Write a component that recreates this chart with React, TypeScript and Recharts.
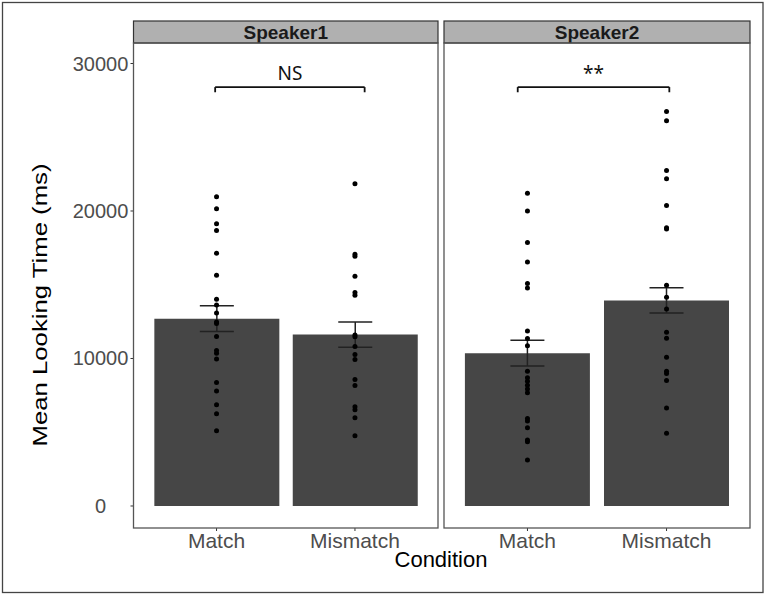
import React from "react";
import { ComposedChart, Bar, Scatter, XAxis, YAxis, ErrorBar, ReferenceLine } from "recharts";

const conditions = ["Match", "Mismatch"];
const speakers = ["Speaker1", "Speaker2"];

const speaker1Means = [12700, 11620];
const speaker1SE = [870, 850];
const speaker2Means = [10360, 13940];
const speaker2SE = [870, 860];

const s1Match = [20970, 20160, 19140, 18670, 17130, 15640, 14020, 13630, 13090, 12480, 12370, 11490, 10540, 10360, 9960, 8380, 7790, 6860, 6250, 5100];
const s1Mismatch = [21850, 17070, 16930, 15580, 14470, 14290, 11600, 11470, 10820, 10270, 9930, 8580, 8170, 6730, 6520, 5980, 4760];
const s2Match = [21200, 20000, 17860, 16540, 15080, 14780, 11870, 11360, 10860, 9140, 8690, 8450, 8190, 7940, 7670, 5940, 5760, 5300, 4470, 4350, 3120];
const s2Mismatch = [26750, 26120, 22750, 22190, 20380, 18870, 18780, 14970, 14150, 13360, 11780, 11380, 10090, 9140, 8990, 8510, 6640, 4940];

const yTicks = [0, 10000, 20000, 30000];
const sigLabels = ["NS", "**"];
const sigSpans = [[0.99, 2.07], [0.93, 2.02]];
const sigY = 28400;
const sigTipY = 28050;

const FONT = "'Liberation Sans', Arial, sans-serif";
const PLOT_TOP = 43;
const PLOT_BOTTOM = 528;
const STRIP_TOP = 21;

const toRows = (means: number[], se: number[]) =>
  conditions.map((c, i) => ({ x: i + 1, condition: c, mean: means[i], se: se[i] }));

const toDots = (groups: number[][]) =>
  groups.flatMap((vals, i) => vals.map((v) => ({ x: i + 1, value: v })));

const panels = [
  { left: 133.5, width: 304.5, rows: toRows(speaker1Means, speaker1SE), dots: toDots([s1Match, s1Mismatch]), showY: true },
  { left: 444, width: 306, rows: toRows(speaker2Means, speaker2SE), dots: toDots([s2Match, s2Mismatch]), showY: false },
];

const YTick = ({ y, payload }: any) => (
  <text x={100.5} y={y} dy={7} textAnchor="middle" fontSize={20} fill="#4d4d4d" fontFamily={FONT}>
    {payload.value}
  </text>
);

const XTick = ({ x, y, payload }: any) => (
  <text x={x} y={y} dy={15} textAnchor="middle" fontSize={21} fill="#4d4d4d" fontFamily={FONT}>
    {conditions[payload.value - 1]}
  </text>
);

const Dot = (p: any) => <circle cx={p.cx} cy={p.cy} r={2.5} fill="#000" />;

function Panel({ idx }: { idx: number }) {
  const p = panels[idx];
  const yw = p.showY ? p.left : 0;
  const chartLeft = p.showY ? 0 : p.left;
  const [x1, x2] = sigSpans[idx];
  return (
    <div style={{ position: "absolute", left: chartLeft, top: 0 }}>
      <ComposedChart
        width={yw + p.width}
        height={594}
        data={p.rows}
        margin={{ top: PLOT_TOP, right: 0, bottom: 594 - PLOT_BOTTOM - 40, left: 0 }}
      >
        <XAxis
          dataKey="x"
          type="number"
          domain={[0.4, 2.6]}
          ticks={[1, 2]}
          allowDataOverflow
          height={40}
          axisLine={false}
          tickSize={3}
          tickMargin={2}
          tickLine={{ stroke: "#333" }}
          tick={<XTick />}
        />
        <YAxis
          type="number"
          domain={[-1492, 31390]}
          ticks={yTicks}
          allowDataOverflow
          hide={!p.showY}
          width={yw}
          axisLine={false}
          tickSize={3}
          tickLine={{ stroke: "#333" }}
          tick={<YTick />}
        />
        <Bar dataKey="mean" fill="#464646" barSize={125} isAnimationActive={false}>
          <ErrorBar dataKey="se" width={17} stroke="#222" strokeWidth={1.5} direction="y" />
        </Bar>
        <Scatter data={p.dots} dataKey="value" shape={<Dot />} isAnimationActive={false} />
        <ReferenceLine
          segment={[{ x: x1, y: sigY }, { x: x2, y: sigY }]}
          stroke="#111"
          strokeWidth={1.8}
          label={{ value: sigLabels[idx], position: "top", offset: 7, fontSize: 19, fill: "#111", fontFamily: "'Noto Sans', sans-serif" }}
        />
        <ReferenceLine segment={[{ x: x1, y: sigY }, { x: x1, y: sigTipY }]} stroke="#111" strokeWidth={1.8} />
        <ReferenceLine segment={[{ x: x2, y: sigY }, { x: x2, y: sigTipY }]} stroke="#111" strokeWidth={1.8} />
      </ComposedChart>
    </div>
  );
}

export default function App() {
  return (
    <div style={{ position: "absolute", left: 0, top: 0, width: 766, height: 594, background: "#fff", overflow: "hidden" }}>
      <Panel idx={0} />
      <Panel idx={1} />
      <svg width={766} height={594} style={{ position: "absolute", left: 0, top: 0, pointerEvents: "none" }}>
        <rect x={2.5} y={2.5} width={760.5} height={590} fill="none" stroke="#444" strokeWidth={1.3} />
        {panels.map((p, i) => (
          <g key={i}>
            <rect x={p.left} y={STRIP_TOP} width={p.width} height={PLOT_TOP - STRIP_TOP} fill="#b0b0b0" stroke="#333" strokeWidth={1.2} />
            <text x={p.left + p.width / 2} y={39} textAnchor="middle" fontSize={19} fontWeight="bold" fill="#1a1a1a" fontFamily={FONT}>
              {speakers[i]}
            </text>
            <rect x={p.left} y={PLOT_TOP} width={p.width} height={PLOT_BOTTOM - PLOT_TOP} fill="none" stroke="#555" strokeWidth={1.3} />
          </g>
        ))}
        <text x={441} y={567} textAnchor="middle" fontSize={22} fill="#000" fontFamily={FONT}>
          Condition
        </text>
        <text
          transform="translate(47,305) rotate(-90)"
          textAnchor="middle"
          fontSize={20}
          textLength={283}
          lengthAdjust="spacingAndGlyphs"
          fill="#000"
          fontFamily={FONT}
        >
          Mean Looking Time (ms)
        </text>
      </svg>
    </div>
  );
}
